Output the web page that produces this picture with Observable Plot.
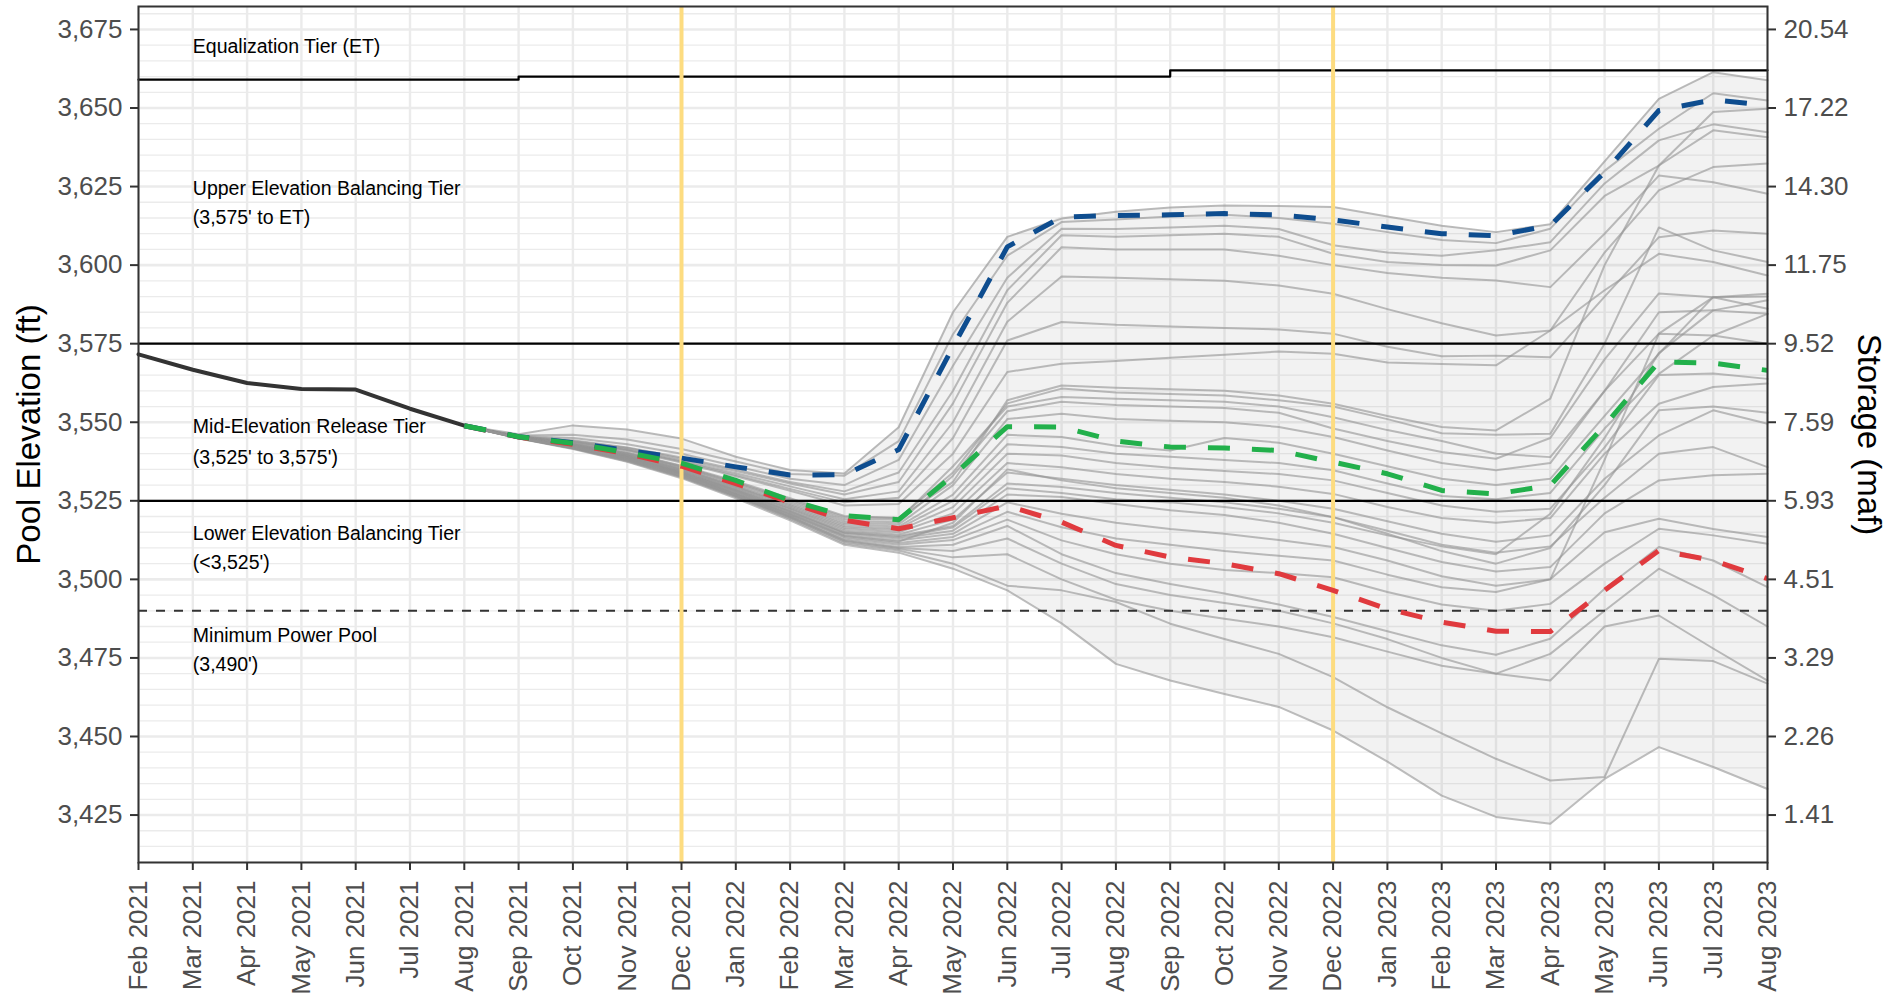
<!DOCTYPE html>
<html><head><meta charset="utf-8">
<script src="https://cdn.jsdelivr.net/npm/d3@7"></script>
<script src="https://cdn.jsdelivr.net/npm/@observablehq/plot@0.6"></script>
<style>
html,body{margin:0;padding:0;background:#fff;}
#chart svg{display:block;}
</style></head><body><div id="chart"></div>
<script>
// ---- x categories (months, equally spaced) ----
const monthLabels = ["Feb 2021","Mar 2021","Apr 2021","May 2021","Jun 2021","Jul 2021","Aug 2021","Sep 2021","Oct 2021","Nov 2021","Dec 2021","Jan 2022","Feb 2022","Mar 2022","Apr 2022","May 2022","Jun 2022","Jul 2022","Aug 2022","Sep 2022","Oct 2022","Nov 2022","Dec 2022","Jan 2023","Feb 2023","Mar 2023","Apr 2023","May 2023","Jun 2023","Jul 2023","Aug 2023"];
// ---- y ticks ----
const elevTicks = [3425,3450,3475,3500,3525,3550,3575,3600,3625,3650,3675];
const storageLabels = ["1.41","2.26","3.29","4.51","5.93","7.59","9.52","11.75","14.30","17.22","20.54"];

// ---- historical (Feb 2021 - Aug 2021) ----
const histValues = [3571.6,3566.7,3562.5,3560.6,3560.4,3554.3,3548.9];

// ---- projections start Aug 2021 (index 6) ----
const projStart = 6;
const maxProbable = [3548.9,3545.4,3543.5,3541.0,3538.6,3535.8,3533.2,3533.3,3541.3,3574.0,3605.8,3615.3,3615.8,3616.0,3616.4,3616.0,3614.4,3612.1,3610.0,3609.4,3612.6,3629.6,3649.2,3652.6,3650.8];
const mostProbable = [3548.9,3545.4,3543.3,3540.3,3537.0,3531.5,3525.1,3520.3,3519.0,3533.0,3548.6,3548.5,3544.0,3542.1,3541.8,3541.0,3537.3,3533.6,3528.3,3527.2,3529.9,3549.0,3569.2,3568.8,3566.5];
const minProbable = [3548.9,3545.3,3543.0,3540.0,3536.0,3530.5,3524.5,3518.8,3516.1,3519.6,3523.4,3518.2,3510.8,3507.1,3505.0,3501.8,3496.5,3490.6,3486.4,3483.5,3483.4,3496.5,3509.2,3506.0,3500.2];

// ---- ensemble traces (gray), Aug 2021 - Aug 2023 ----
const traces = [
 [3548.9,3546.2,3549.0,3547.7,3544.8,3539.0,3534.8,3533.7,3548.4,3585.0,3609.0,3614.8,3617.0,3618.3,3619.0,3618.8,3618.5,3615.5,3612.5,3610.5,3613.0,3633.0,3652.9,3661.4,3658.8],
 [3548.9,3545.8,3546.0,3544.5,3541.5,3537.5,3533.5,3533.0,3544.0,3578.0,3603.0,3613.7,3614.5,3615.5,3616.0,3615.0,3613.2,3610.5,3608.0,3607.0,3611.6,3630.0,3643.4,3654.7,3652.4],
 [3548.9,3545.6,3545.0,3543.0,3540.0,3536.0,3532.0,3530.0,3538.0,3568.0,3596.0,3611.6,3611.5,3612.0,3612.5,3611.5,3606.3,3604.0,3603.0,3604.7,3607.3,3626.0,3639.7,3644.8,3642.3],
 [3548.9,3545.5,3544.3,3542.0,3538.8,3535.0,3531.0,3528.0,3534.0,3560.0,3592.0,3609.5,3609.0,3609.5,3610.0,3609.0,3603.6,3601.0,3600.0,3599.9,3604.7,3622.0,3631.7,3642.9,3640.7],
 [3548.9,3545.5,3544.0,3541.8,3538.4,3534.5,3530.5,3527.0,3531.0,3556.0,3588.0,3605.7,3605.0,3605.0,3605.0,3603.0,3600.0,3597.5,3596.0,3595.1,3593.0,3610.0,3628.5,3626.4,3622.7],
 [3548.9,3545.4,3543.8,3541.4,3537.8,3533.8,3529.6,3525.5,3528.0,3550.0,3582.0,3596.4,3596.0,3595.5,3595.0,3593.5,3590.9,3586.0,3581.5,3577.6,3579.2,3604.0,3623.8,3631.2,3632.3],
 [3548.9,3545.4,3543.7,3541.2,3537.5,3533.2,3528.8,3524.5,3526.0,3545.0,3576.0,3581.9,3581.0,3580.5,3580.0,3579.5,3578.2,3574.0,3571.0,3571.2,3570.7,3590.0,3608.9,3611.0,3610.0],
 [3548.9,3545.3,3543.5,3541.0,3537.2,3532.8,3528.2,3523.5,3524.0,3540.0,3566.0,3568.6,3569.5,3570.5,3571.5,3572.5,3571.8,3569.0,3568.5,3568.1,3579.2,3592.0,3603.6,3601.0,3596.7],
 [3548.9,3545.3,3543.2,3540.4,3536.2,3531.2,3525.8,3520.2,3519.5,3531.0,3557.0,3561.7,3561.0,3560.5,3560.0,3558.5,3555.9,3552.0,3548.5,3547.4,3557.5,3600.0,3631.7,3648.7,3649.8],
 [3548.9,3545.3,3543.1,3540.2,3536.0,3530.8,3525.4,3519.8,3519.5,3534.0,3556.0,3560.7,3559.5,3559.0,3558.5,3557.0,3555.0,3551.0,3546.5,3546.0,3546.3,3575.0,3612.0,3604.7,3601.0],
 [3548.9,3545.3,3543.0,3540.0,3535.8,3530.5,3525.0,3519.2,3519.0,3536.0,3555.0,3558.0,3557.5,3557.0,3556.5,3555.0,3551.6,3547.5,3544.0,3540.0,3538.9,3560.0,3578.2,3577.6,3575.0],
 [3548.9,3545.3,3542.9,3539.8,3535.5,3530.0,3524.5,3518.6,3518.2,3533.0,3553.5,3556.5,3555.5,3555.0,3554.5,3553.0,3548.0,3544.0,3540.5,3538.4,3545.0,3570.0,3591.0,3589.8,3590.9],
 [3548.9,3545.2,3542.8,3539.6,3535.2,3529.6,3524.0,3518.0,3517.5,3530.0,3551.0,3552.7,3551.0,3550.5,3550.0,3548.5,3545.3,3541.0,3537.0,3534.7,3537.0,3560.0,3585.0,3585.6,3588.8],
 [3548.9,3545.2,3542.7,3539.5,3535.0,3529.4,3523.6,3517.5,3516.8,3527.0,3546.0,3545.3,3542.5,3541.0,3545.0,3543.5,3540.0,3536.0,3532.0,3530.0,3532.0,3552.0,3571.8,3589.8,3586.1],
 [3548.9,3545.2,3542.6,3539.4,3534.8,3529.2,3523.2,3517.0,3516.2,3525.0,3543.0,3542.1,3540.0,3539.0,3538.0,3537.0,3534.7,3530.5,3526.5,3525.5,3527.5,3548.0,3565.4,3577.6,3584.5],
 [3548.9,3545.2,3542.5,3539.2,3534.5,3528.8,3522.8,3516.5,3515.6,3523.0,3540.0,3539.4,3537.0,3535.5,3534.5,3533.5,3531.5,3527.5,3523.5,3521.5,3522.5,3542.0,3565.0,3565.5,3563.8],
 [3548.9,3545.2,3542.5,3539.1,3534.4,3528.6,3522.5,3516.0,3515.0,3521.0,3537.0,3535.7,3533.5,3532.0,3531.0,3529.5,3527.2,3523.0,3519.5,3518.0,3519.5,3540.0,3555.9,3561.2,3562.3],
 [3548.9,3545.1,3542.4,3539.0,3534.2,3528.4,3522.2,3515.5,3514.3,3519.0,3534.0,3532.0,3530.0,3528.5,3527.0,3525.0,3522.5,3518.5,3514.5,3512.0,3514.0,3532.0,3545.8,3553.8,3549.5],
 [3548.9,3545.1,3542.3,3538.9,3534.0,3528.2,3521.8,3515.0,3513.8,3517.0,3530.5,3529.4,3527.5,3526.0,3524.5,3522.5,3519.8,3515.5,3511.0,3508.5,3510.5,3526.0,3540.0,3542.1,3535.7],
 [3548.9,3545.1,3542.2,3538.7,3533.8,3527.8,3521.4,3514.5,3513.0,3515.5,3527.0,3526.2,3524.0,3522.0,3520.5,3518.0,3514.5,3510.0,3505.5,3502.5,3503.9,3521.0,3531.5,3533.1,3533.6],
 [3548.9,3545.0,3542.1,3538.6,3533.6,3527.5,3521.0,3514.0,3512.4,3514.5,3524.5,3520.9,3518.0,3516.0,3514.5,3512.5,3510.3,3506.0,3501.0,3498.0,3500.0,3538.0,3578.2,3589.8,3590.0],
 [3548.9,3545.0,3542.0,3538.4,3533.4,3527.2,3520.6,3513.5,3511.6,3513.5,3521.5,3516.6,3513.0,3511.0,3509.0,3507.5,3506.0,3501.5,3497.5,3496.0,3500.0,3515.0,3519.3,3516.0,3513.5],
 [3548.9,3545.0,3541.9,3538.2,3533.2,3527.0,3520.3,3513.0,3511.0,3512.5,3519.0,3512.4,3508.0,3505.0,3503.0,3502.0,3500.7,3496.0,3492.0,3490.0,3492.2,3505.0,3516.1,3514.0,3511.3],
 [3548.9,3544.9,3541.8,3538.0,3533.0,3526.7,3520.0,3512.5,3510.3,3511.0,3517.0,3508.0,3502.0,3498.5,3495.5,3492.0,3488.0,3483.5,3479.0,3476.0,3481.1,3497.0,3510.3,3506.0,3497.5],
 [3548.9,3544.9,3541.7,3537.8,3532.7,3526.4,3519.6,3512.0,3509.7,3507.0,3508.0,3500.0,3493.5,3490.0,3487.5,3485.0,3481.6,3477.0,3472.5,3470.0,3476.3,3490.0,3503.4,3495.0,3485.0],
 [3548.9,3544.9,3541.6,3537.6,3532.5,3526.2,3519.3,3511.5,3509.2,3505.0,3498.0,3496.5,3492.8,3485.9,3481.0,3476.3,3468.9,3459.3,3451.0,3442.9,3436.0,3437.1,3474.7,3474.0,3466.8],
 [3548.9,3544.8,3541.5,3537.4,3532.2,3525.8,3518.8,3511.0,3508.5,3503.4,3496.5,3486.0,3473.1,3467.8,3463.5,3459.4,3451.9,3442.0,3431.2,3424.4,3422.2,3436.5,3446.6,3440.3,3433.3],
 [3548.9,3544.9,3541.8,3538.0,3532.8,3526.6,3519.9,3512.3,3510.0,3509.0,3513.0,3505.0,3498.5,3495.0,3492.5,3490.0,3486.0,3481.0,3475.0,3470.0,3467.8,3485.0,3488.5,3478.0,3467.8],
 [3548.9,3545.1,3542.3,3538.8,3533.9,3528.0,3521.6,3514.8,3513.5,3516.5,3529.0,3527.5,3525.5,3524.5,3523.0,3521.0,3518.0,3514.0,3510.5,3508.0,3520.9,3545.0,3572.0,3585.6,3584.5],
 [3548.9,3545.0,3542.0,3538.5,3533.5,3527.3,3520.8,3513.8,3512.0,3518.0,3535.0,3531.5,3529.0,3527.5,3526.0,3523.5,3519.8,3514.5,3509.0,3505.0,3510.0,3530.0,3553.8,3555.0,3553.0]
];

// ---- operating tiers ----
const etX = [0,7,19,30];
const etY = [3659.0,3660.0,3662.0,3662.0];
const tierLines = [3575,3525];
const minPowerPool = [3490];
const decMarkers = [10,22];
const tierText = [
 {y:3669.6, text:"Equalization Tier (ET)"},
 {y:3624.2, text:"Upper Elevation Balancing Tier"},
 {y:3615.0, text:"(3,575' to ET)"},
 {y:3548.5, text:"Mid-Elevation Release Tier"},
 {y:3538.8, text:"(3,525' to 3,575')"},
 {y:3514.6, text:"Lower Elevation Balancing Tier"},
 {y:3505.4, text:"(<3,525')"},
 {y:3481.9, text:"Minimum Power Pool"},
 {y:3472.7, text:"(3,490')"}
];

// ---- build tables ----
const monthIdx = monthLabels.map((_, i) => i);
const hist = histValues.map((y, i) => ({x: i, y}));
const toRows = (arr) => arr.map((y, i) => ({x: projStart + i, y}));
const grayRows = traces.flatMap((t, k) => t.map((y, i) => ({x: projStart + i, y, trace: k})));
const allSeries = traces.concat([maxProbable, mostProbable, minProbable]);
const ribbon = maxProbable.map((_, i) => ({
  x: projStart + i,
  lo: d3.min(allSeries, s => s[i]),
  hi: d3.max(allSeries, s => s[i])
}));
const etRows = etX.map((x, i) => ({x, y: etY[i]}));
const yMinor = d3.range(3410, 3685, 5).filter(v => v % 25 !== 0);

const dash = {strokeWidth: 5, strokeDasharray: "22,22", strokeLinecap: "butt"};

const chart = Plot.plot({
  width: 1895, height: 1000,
  marginLeft: 138, marginRight: 128, marginTop: 6, marginBottom: 138,
  style: {fontFamily: "'Liberation Sans', Arial, sans-serif", background: "#fff", overflow: "visible"},
  x: {type: "linear", domain: [0, 30]},
  y: {domain: [3409.9, 3682.3]},
  marks: [
    Plot.ruleY(yMinor, {stroke: "#ebebeb", strokeWidth: 1.3}),
    Plot.ruleY(elevTicks, {stroke: "#ebebeb", strokeWidth: 2.6}),
    Plot.ruleX(monthIdx, {stroke: "#ebebeb", strokeWidth: 2.4}),
    Plot.areaY(ribbon, {x: "x", y1: "lo", y2: "hi", fill: "#808080", fillOpacity: 0.1}),
    Plot.line(grayRows, {x: "x", y: "y", z: "trace", stroke: "#959595", strokeOpacity: 0.62, strokeWidth: 2}),
    Plot.line(etRows, {x: "x", y: "y", curve: "step-after", stroke: "#000", strokeWidth: 2.2}),
    Plot.ruleY(tierLines, {stroke: "#000", strokeWidth: 2.2}),
    Plot.ruleY(minPowerPool, {stroke: "#333", strokeWidth: 2, strokeDasharray: "9,9"}),
    Plot.ruleX(decMarkers, {stroke: "#FDDC80", strokeWidth: 4}),
    Plot.line(hist, {x: "x", y: "y", stroke: "#333", strokeWidth: 4}),
    Plot.line(toRows(minProbable), {x: "x", y: "y", stroke: "#E03A3E", ...dash}),
    Plot.line(toRows(maxProbable), {x: "x", y: "y", stroke: "#0E4D8F", ...dash}),
    Plot.line(toRows(mostProbable), {x: "x", y: "y", stroke: "#22B04B", ...dash}),
    Plot.text(tierText, {x: () => 1, y: "y", text: "text", textAnchor: "start", fontSize: 19.5, fill: "#000"}),
    Plot.axisY(elevTicks, {anchor: "left", tickFormat: d3.format(","), tickSize: 8, tickPadding: 8, fontSize: 26, label: null, stroke: "#333", fill: "#4d4d4d", strokeWidth: 2}),
    Plot.axisY(elevTicks, {anchor: "right", tickFormat: d => storageLabels[elevTicks.indexOf(d)], tickSize: 8, tickPadding: 8, fontSize: 26, label: null, stroke: "#333", fill: "#4d4d4d", strokeWidth: 2}),
    Plot.axisX(monthIdx, {anchor: "bottom", tickFormat: i => monthLabels[i], tickRotate: -90, tickSize: 8, tickPadding: 10, fontSize: 26, label: null, stroke: "#333", fill: "#4d4d4d", strokeWidth: 2}),
    Plot.frame({stroke: "#333", strokeWidth: 2}),
    Plot.text(["Pool Elevation (ft)"], {frameAnchor: "left", dx: -109, rotate: -90, textAnchor: "middle", lineAnchor: "middle", fontSize: 33, fill: "#000"}),
    Plot.text(["Storage (maf)"], {frameAnchor: "right", dx: 101, rotate: 90, textAnchor: "middle", lineAnchor: "middle", fontSize: 33, fill: "#000"})
  ]
});
document.getElementById("chart").appendChild(chart);
</script>
</body></html>
